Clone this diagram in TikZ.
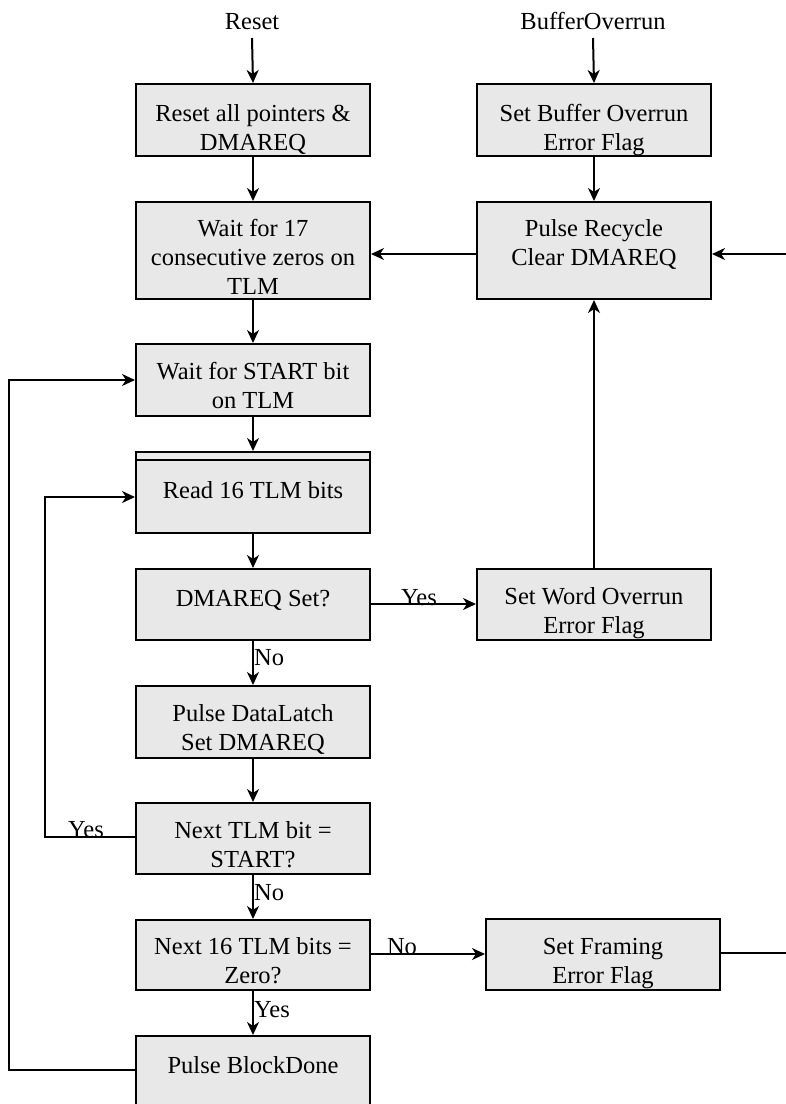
\documentclass[tikz,border=0pt]{standalone}
\usepackage{fontspec}
\setmainfont{Liberation Serif}
\usetikzlibrary{arrows.meta}
\definecolor{boxfill}{RGB}{232,232,232}
\begin{document}
\begin{tikzpicture}[x=1pt,y=-1pt,
  every node/.style={font=\fontsize{24.5}{29}\selectfont},
  stepbox/.style={draw, line width=2pt, fill=boxfill, align=center,
    inner sep=0pt, anchor=north west, minimum width=234pt},
  tb/.style 2 args={text height=#1pt, text depth=#2pt},
  conn/.style={line width=2pt},
  arr/.style={conn, -{Stealth[length=13pt,width=12pt,inset=4pt]}},
  lbl/.style={inner sep=0pt}]
\useasboundingbox (0,0) rectangle (786,1104);

% entry labels
\node[lbl, anchor=south, text depth=8pt] (rlbl) at (252,38) {Reset};
\node[lbl, anchor=south, text depth=8pt] (bolbl) at (593,38) {BufferOverrun};

% left column (text height/depth place the last baseline inside each box)
\node[stepbox, minimum height=72pt, tb={65}{5}] (b1) at (135,83) {Reset all pointers \&\\DMAREQ};
\node[stepbox, minimum height=97pt, tb={88.5}{1.5}] (b2) at (135,201) {Wait for 17\\consecutive zeros on\\TLM};
\node[stepbox, minimum height=72pt, tb={58}{2}] (b3) at (135,343) {Wait for START bit\\on TLM};
\node[stepbox, minimum height=81pt, tb={20.5}{9.5}] (b4) at (135,451) {Read 16 TLM bits};
\draw[conn] ([yshift=-9pt]b4.north west) -- ([yshift=-9pt]b4.north east);
\node[stepbox, minimum height=71pt, tb={16.5}{13.5}] (b5) at (135,568) {DMAREQ Set?};
\node[stepbox, minimum height=72pt, tb={58}{2}] (b6) at (135,685) {Pulse DataLatch\\Set DMAREQ};
\node[stepbox, minimum height=71pt, tb={59}{1}] (b7) at (135,802) {Next TLM bit =\\START?};
\node[stepbox, minimum height=70pt, tb={58}{2}] (b8) at (135,919) {Next 16 TLM bits =\\Zero?};
\node[stepbox, minimum height=97pt, tb={3.5}{26.5}] (bd) at (135,1035) {Pulse BlockDone};

% right column
\node[stepbox, minimum height=72pt, tb={65}{5}] (bo) at (476,83) {Set Buffer Overrun\\Error Flag};
\node[stepbox, minimum height=97pt, tb={44.5}{15.5}] (pr) at (476,201) {Pulse Recycle\\Clear DMAREQ};
\node[stepbox, minimum height=71pt, tb={59}{1}] (swo) at (476,568) {Set Word Overrun\\Error Flag};
\node[stepbox, minimum height=71pt, tb={58.5}{1.5}] (fr) at (485,918) {Set Framing\\Error Flag};

% free ends at the right border and loop corners
\coordinate (rin) at (786,254);
\coordinate (rout) at (786,953);
\coordinate (l1a) at (9,1070);
\coordinate (l1b) at (9,380);
\coordinate (l2a) at (45,837);
\coordinate (l2b) at (45,497);

% main flow
\draw[arr] (rlbl.south) -- (b1.north);
\draw[arr] (b1.south) -- (b2.north);
\draw[arr] (b2.south) -- (b3.north);
\draw[arr] (b3.south) -- (b4.north);
\draw[arr] (b4.south) -- (b5.north);
\draw[arr] (b5.south) -- (b6.north);
\draw[arr] (b6.south) -- (b7.north);
\draw[arr] (b7.south) -- (b8.north);
\draw[arr] (b8.south) -- (bd.north);

% error paths
\draw[arr] (bolbl.south) -- (bo.north);
\draw[arr] (bo.south) -- (pr.north);
\draw[arr] (swo.north) -- (pr.south);
\draw[arr] (pr.west |- rin) -- (b2.east |- rin);
\draw[arr] (rin) -- (pr.east |- rin);
\draw[arr] (b5.east |- 0,604) -- (swo.west |- 0,604);
\draw[arr] (b8.east |- 0,954) -- (fr.west |- 0,954);
\draw[conn] (fr.east |- rout) -- (rout);

% loops back
\draw[arr] (bd.west |- l1a) -- (l1a) -- (l1b) -- (b3.west |- l1b);
\draw[arr] (b7.west |- l2a) -- (l2a) -- (l2b) -- (b4.west |- l2b);

% branch labels
\node[lbl, anchor=base] (y1) at (419,605) {Yes};
\node[lbl, anchor=base west] (n1) at (254,665) {No};
\node[lbl, anchor=base] (y2) at (86,837) {Yes};
\node[lbl, anchor=base west] (n2) at (254,900) {No};
\node[lbl, anchor=base] (n3) at (402,954) {No};
\node[lbl, anchor=base west] (y3) at (254,1017) {Yes};
\end{tikzpicture}
\end{document}
